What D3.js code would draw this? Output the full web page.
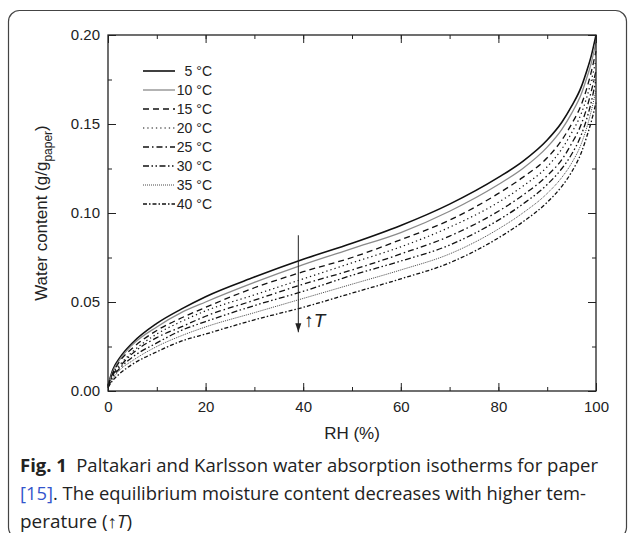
<!DOCTYPE html>
<html>
<head>
<meta charset="utf-8">
<script src="https://cdn.jsdelivr.net/npm/d3@7"></script>
<style>
  body { margin: 0; background: #fff; }
  svg { display: block; }
  text { font-family: "Liberation Sans", Arial, sans-serif; fill: #222; }
  .caption { font-family: "Open Sans", "Noto Sans", sans-serif; font-size: 18px; fill: #222; }
</style>
</head>
<body>
<svg id="chart"></svg>
<script>
let svgWidth = 629
let svgHeight = 533

// relative humidity points (%)
const rh = [0, 1, 2.5, 5, 10, 15, 20, 30, 40, 50, 60, 70, 80, 85, 90, 93, 95, 97, 98, 99, 100]

// water content (g/g paper), one array per temperature
const t5  = [0.003, 0.012, 0.019, 0.027, 0.038, 0.046, 0.053, 0.064, 0.074, 0.083, 0.093, 0.105, 0.120, 0.129, 0.141, 0.151, 0.160, 0.171, 0.179, 0.188, 0.200]
const t10 = [0.003, 0.011, 0.018, 0.026, 0.036, 0.044, 0.050, 0.061, 0.071, 0.080, 0.089, 0.101, 0.116, 0.125, 0.137, 0.147, 0.156, 0.167, 0.175, 0.184, 0.196]
const t15 = [0.003, 0.010, 0.017, 0.024, 0.034, 0.041, 0.047, 0.058, 0.067, 0.075, 0.085, 0.096, 0.111, 0.120, 0.131, 0.141, 0.150, 0.161, 0.169, 0.179, 0.191]
const t20 = [0.003, 0.010, 0.015, 0.022, 0.032, 0.039, 0.045, 0.054, 0.063, 0.072, 0.081, 0.092, 0.106, 0.115, 0.126, 0.136, 0.145, 0.156, 0.164, 0.174, 0.186]
const t25 = [0.002, 0.009, 0.014, 0.021, 0.030, 0.036, 0.042, 0.051, 0.060, 0.068, 0.077, 0.087, 0.101, 0.110, 0.121, 0.130, 0.139, 0.150, 0.158, 0.168, 0.180]
const t30 = [0.002, 0.008, 0.013, 0.019, 0.027, 0.034, 0.039, 0.048, 0.056, 0.065, 0.073, 0.082, 0.096, 0.105, 0.116, 0.125, 0.133, 0.144, 0.152, 0.162, 0.175]
const t35 = [0.002, 0.007, 0.012, 0.017, 0.025, 0.031, 0.036, 0.044, 0.052, 0.060, 0.068, 0.077, 0.091, 0.100, 0.111, 0.120, 0.128, 0.139, 0.147, 0.157, 0.169]
const t40 = [0.002, 0.006, 0.010, 0.015, 0.022, 0.028, 0.032, 0.040, 0.047, 0.055, 0.063, 0.072, 0.086, 0.095, 0.106, 0.115, 0.123, 0.134, 0.142, 0.151, 0.162]

const labels = ['5 °C', '10 °C', '15 °C', '20 °C', '25 °C', '30 °C', '35 °C', '40 °C']
const xTicks = [0, 20, 40, 60, 80, 100]
const yTicks = [0, 0.05, 0.10, 0.15, 0.20]

const seriesList = [t5, t10, t15, t20, t25, t30, t35, t40]

// line styles per curve, same order as labels
const styles = [
    {stroke: '#111', width: 1.6, dash: null},
    {stroke: '#8a8a8a', width: 1.3, dash: null},
    {stroke: '#111', width: 1.3, dash: '6,4'},
    {stroke: '#111', width: 1.2, dash: '1.3,3'},
    {stroke: '#111', width: 1.3, dash: '6,3,1.5,3'},
    {stroke: '#111', width: 1.3, dash: '6,2.5,1.5,2.5,1.5,2.5'},
    {stroke: '#333', width: 0.9, dash: '1,1'},
    {stroke: '#111', width: 1.3, dash: '4,2,1.5,2'}
]

let margin = {left: 108, top: 35, right: 33, bottom: 142}
let plotW = svgWidth - margin.left - margin.right
let plotH = svgHeight - margin.top - margin.bottom

let svg = d3.select('#chart')
    .attr('width', svgWidth)
    .attr('height', svgHeight)

// rounded frame around figure + caption
svg.append('rect')
    .attr('x', 8.5).attr('y', 10.5)
    .attr('width', 618).attr('height', 528)
    .attr('rx', 11)
    .attr('fill', 'none')
    .attr('stroke', '#444')
    .attr('stroke-width', 1.2)

let g = svg.append('g').attr('transform', `translate(${margin.left},${margin.top})`)

const xScale = d3.scaleLinear().domain([0, 100]).range([0, plotW])
const yScale = d3.scaleLinear().domain([0, 0.2]).range([plotH, 0])

// curves
const line = d3.line()
    .x((d, i) => xScale(rh[i]))
    .y(d => yScale(d))
    .curve(d3.curveMonotoneX)

g.selectAll('path.curve').data(seriesList)
    .enter()
    .append('path')
    .attr('class', 'curve')
    .attr('d', line)
    .attr('fill', 'none')
    .attr('stroke', (d, i) => styles[i].stroke)
    .attr('stroke-width', (d, i) => styles[i].width)
    .attr('stroke-dasharray', (d, i) => styles[i].dash)

// axes, ticks pointing inward, mirrored on top/right
function styleAxis(sel){
    sel.select('.domain').remove()
    sel.selectAll('line').attr('stroke', '#222').attr('stroke-width', 1)
    sel.selectAll('text').style('font-size', '15px').attr('fill', '#222')
}

const xMinor = d3.range(0, 101, 10)
const yMinor = d3.range(0, 0.2001, 0.025)

g.append('g').attr('transform', `translate(0,${plotH})`)
    .call(d3.axisBottom(xScale).tickValues(xMinor).tickSize(-4).tickFormat(''))
    .call(styleAxis)
g.append('g').attr('transform', `translate(0,${plotH})`)
    .call(d3.axisBottom(xScale).tickValues(xTicks).tickSize(-8).tickPadding(10).tickFormat(d3.format('d')))
    .call(styleAxis)
g.append('g')
    .call(d3.axisTop(xScale).tickValues(xMinor).tickSize(-4).tickFormat(''))
    .call(styleAxis)
g.append('g')
    .call(d3.axisTop(xScale).tickValues(xTicks).tickSize(-8).tickFormat(''))
    .call(styleAxis)

g.append('g')
    .call(d3.axisLeft(yScale).tickValues(yMinor).tickSize(-4).tickFormat(''))
    .call(styleAxis)
g.append('g')
    .call(d3.axisLeft(yScale).tickValues(yTicks).tickSize(-8).tickPadding(8).tickFormat(d3.format('.2f')))
    .call(styleAxis)
g.append('g').attr('transform', `translate(${plotW},0)`)
    .call(d3.axisRight(yScale).tickValues(yMinor).tickSize(-4).tickFormat(''))
    .call(styleAxis)
g.append('g').attr('transform', `translate(${plotW},0)`)
    .call(d3.axisRight(yScale).tickValues(yTicks).tickSize(-8).tickFormat(''))
    .call(styleAxis)

// plot frame
g.append('rect')
    .attr('width', plotW).attr('height', plotH)
    .attr('fill', 'none').attr('stroke', '#222').attr('stroke-width', 1.3)

// axis titles
svg.append('text')
    .attr('x', margin.left + plotW / 2).attr('y', 439)
    .attr('text-anchor', 'middle')
    .style('font-size', '17px')
    .text('RH (%)')

let yTitle = svg.append('text')
    .attr('transform', `translate(47,${margin.top + plotH / 2}) rotate(-90)`)
    .attr('text-anchor', 'middle')
    .style('font-size', '17px')
yTitle.append('tspan').text('Water content (g/g')
yTitle.append('tspan').attr('dy', 5).style('font-size', '12px').text('paper')
yTitle.append('tspan').attr('dy', -5).text(')')

// legend
let legend = g.append('g').attr('transform', 'translate(35,36)')
legend.selectAll('line').data(labels)
    .enter()
    .append('line')
    .attr('x1', 0).attr('x2', 32)
    .attr('y1', (d, i) => i * 19).attr('y2', (d, i) => i * 19)
    .attr('stroke', (d, i) => styles[i].stroke)
    .attr('stroke-width', (d, i) => styles[i].width)
    .attr('stroke-dasharray', (d, i) => styles[i].dash)
legend.selectAll('text').data(labels)
    .enter()
    .append('text')
    .attr('x', 69).attr('y', (d, i) => i * 19)
    .attr('dy', '0.35em')
    .attr('text-anchor', 'end')
    .style('font-size', '14px')
    .text(d => d)

// temperature arrow
const arrowRH = 39
g.append('line')
    .attr('x1', xScale(arrowRH)).attr('x2', xScale(arrowRH))
    .attr('y1', yScale(0.0875)).attr('y2', yScale(0.033))
    .attr('stroke', '#222').attr('stroke-width', 1)
g.append('path')
    .attr('d', `M${xScale(arrowRH) - 3},${yScale(0.033) - 9} L${xScale(arrowRH)},${yScale(0.033)} L${xScale(arrowRH) + 3},${yScale(0.033) - 9} Z`)
    .attr('fill', '#222')
let tLabel = g.append('text')
    .attr('x', xScale(arrowRH) + 6).attr('y', yScale(0.036))
    .style('font-size', '19px')
tLabel.append('tspan').text('↑')
tLabel.append('tspan').style('font-style', 'italic').text('T')

// caption
const captionLines = [
    [{t: 'Fig. 1', w: 'bold'}, {t: '\u2002Paltakari and Karlsson water absorption isotherms for paper'}],
    [{t: '[15]', c: '#3355cc'}, {t: '. The equilibrium moisture content decreases with higher tem-'}],
    [{t: 'perature (↑'}, {t: 'T', i: true}, {t: ')'}]
]
const captionW = [578, 566, 112]
captionLines.forEach(function(parts, k){
    let txt = svg.append('text')
        .attr('class', 'caption')
        .attr('x', 20).attr('y', 472 + k * 28)
        .attr('textLength', captionW[k]).attr('lengthAdjust', 'spacingAndGlyphs')
    parts.forEach(function(p){
        txt.append('tspan')
            .style('font-weight', p.w || null)
            .style('font-style', p.i ? 'italic' : null)
            .style('fill', p.c || null)
            .text(p.t)
    })
})
</script>
</body>
</html>
